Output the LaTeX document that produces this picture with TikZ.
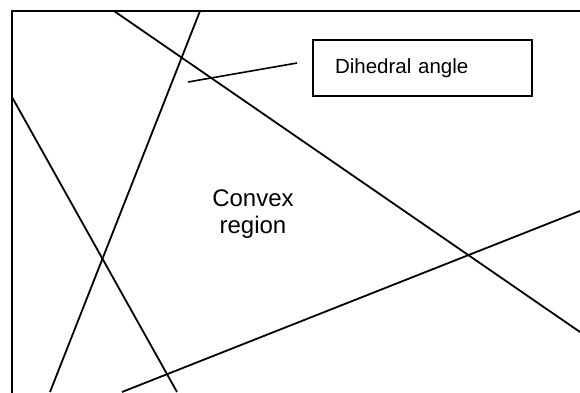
\documentclass[tikz,border=0pt]{standalone}
\usepackage{fontspec}
\setmainfont{Liberation Sans}
\usetikzlibrary{positioning}

\begin{document}
\begin{tikzpicture}[
  x=1pt, y=-1pt,
  frame/.style={draw=black, line width=2.6pt},
  plane/.style={draw=black, line width=1.8pt},
  leader/.style={draw=black, line width=1.6pt},
  callout/.style={
    rectangle, draw=black, line width=1.8pt, fill=white,
    minimum width=219pt, minimum height=56pt, inner xsep=22pt,
    text width=175pt, align=left, font=\fontsize{20.5}{24}\selectfont
  },
  regionlabel/.style={align=center, font=\fontsize{24}{27}\selectfont},
]

%% Page area and the (cut off) frame
\clip (0,0) rectangle (580,392);
\fill[white] (0,0) rectangle (580,392);
\draw[frame] (12,11) rectangle (600,410);

%% End points of the planes on the frame
\coordinate (pa1) at (114,11);  \coordinate (pa2) at (580,332);
\coordinate (pb1) at (200,11);  \coordinate (pb2) at (50,392);
\coordinate (pc1) at (12,97);   \coordinate (pc2) at (177,392);
\coordinate (pd1) at (122,392); \coordinate (pd2) at (580,211);

%% Planes
\draw[plane] (pa1) -- (pa2);
\draw[plane] (pb1) -- (pb2);
\draw[plane] (pc1) -- (pc2);
\draw[plane] (pd1) -- (pd2);

%% Labels
\node[callout] (dihedral) at (422.5,68) {Dihedral angle};
\node[regionlabel] (convex) at (253,214) {Convex\\region};

%% Pointer to the dihedral angle
\coordinate (tip) at (188,82);
\coordinate (leaderend) at (297,63);
\draw[leader] (tip) -- (leaderend);

\end{tikzpicture}
\end{document}
